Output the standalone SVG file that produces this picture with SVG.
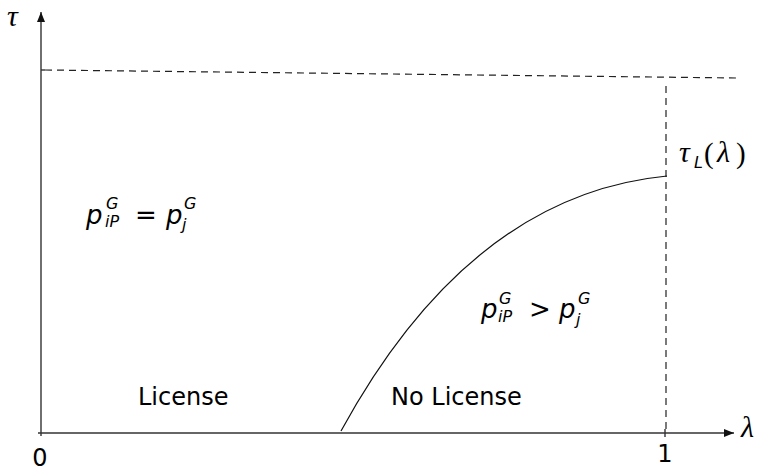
<svg xmlns="http://www.w3.org/2000/svg" width="761" height="472" viewBox="0 0 761 472">
<style>
.axis{stroke:#333;stroke-width:1.4;fill:none}
.dash{stroke:#222;stroke-width:1.2;fill:none;stroke-dasharray:7 5}
.curve{stroke:#111;stroke-width:1.2;fill:none}
.lbl{font-family:"DejaVu Sans",sans-serif;font-size:24px;fill:#000}
.m{font-family:"DejaVu Sans",sans-serif;font-style:italic;font-size:26px;fill:#000}
.ms{font-size:16px}
.rel{font-style:normal}
.sym{font-family:"Liberation Serif",serif;font-style:italic;font-size:30px;fill:#000}
.symr{font-style:normal;font-size:29px}
.symS{font-family:"DejaVu Sans",sans-serif;font-size:16px}
</style>
<defs>
<marker id="arr" viewBox="0 0 10 10" refX="10" refY="5" markerWidth="10" markerHeight="10" markerUnits="userSpaceOnUse" orient="auto">
<path d="M0,1 L10,5 L0,9 Z" fill="#111"/>
</marker>
</defs>
<g id="connectors">
<line class="axis" x1="41" y1="436" x2="41" y2="12" marker-end="url(#arr)"/>
<line class="axis" x1="38" y1="433" x2="734" y2="433" marker-end="url(#arr)"/>
<line class="axis" x1="665" y1="429" x2="665" y2="437"/>
<line class="axis" x1="41" y1="70" x2="45" y2="70"/>
<line class="dash" x1="45" y1="70" x2="737" y2="78"/>
<line class="dash" x1="666" y1="86" x2="666" y2="430"/>
<path class="curve" d="M341,431 Q470,195 667,176"/>
</g>
<g id="axis-labels">
<text class="sym" x="7" y="26">τ</text>
<text class="sym" x="741" y="437">λ</text>
<text class="lbl" x="40" y="466" text-anchor="middle">0</text>
<text class="lbl" x="665" y="462" text-anchor="middle">1</text>
</g>
<g id="tauL">
<text class="sym" x="679" y="162">τ<tspan class="symS" x="694" y="168">L</tspan><tspan class="symr" x="704" y="163">(</tspan><tspan x="717" y="162">λ</tspan><tspan class="symr" x="736" y="163">)</tspan></text>
</g>
<g id="region-license">
<text class="m" x="86" y="224">p<tspan class="ms" x="106" y="209">G</tspan><tspan class="ms" x="105" y="227">iP</tspan><tspan class="rel" x="135" y="224">=</tspan><tspan x="166" y="224">p</tspan><tspan class="ms" x="184" y="209">G</tspan><tspan class="ms" x="182" y="230">j</tspan></text>
<text class="lbl" x="138" y="405">License</text>
</g>
<g id="region-nolicense">
<text class="m" x="481" y="318">p<tspan class="ms" x="499" y="304">G</tspan><tspan class="ms" x="498" y="322">iP</tspan><tspan class="rel" x="529" y="318">&gt;</tspan><tspan x="559" y="318">p</tspan><tspan class="ms" x="578" y="304">G</tspan><tspan class="ms" x="576" y="325">j</tspan></text>
<text class="lbl" x="391" y="405">No License</text>
</g>
</svg>
